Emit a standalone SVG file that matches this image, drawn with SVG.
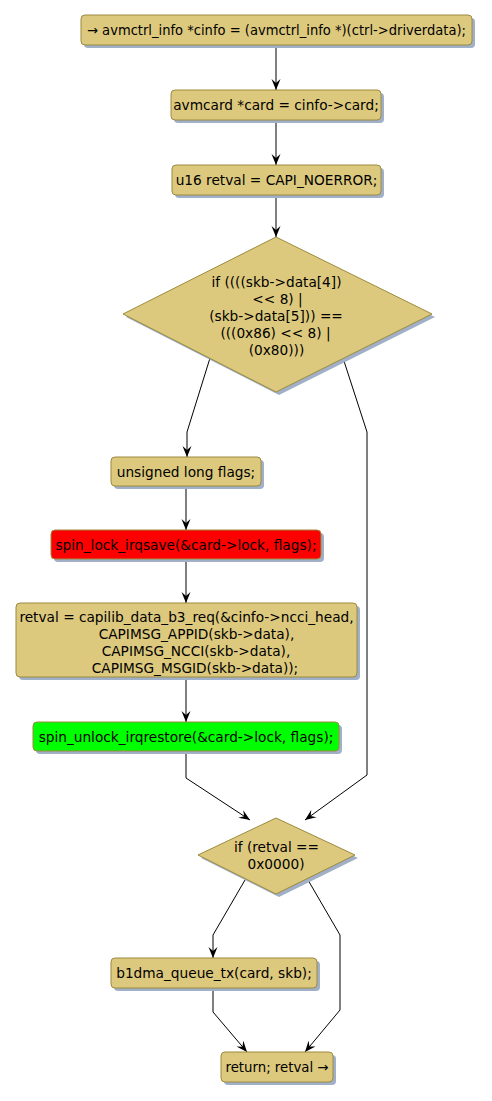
<svg xmlns="http://www.w3.org/2000/svg" width="492" height="1101" viewBox="0 0 492 1101">
<defs>
<style>
.n{fill:#DDC97D;stroke:#9C8A3E;stroke-width:1}
.sh{fill:#9FB0C8}
.t{font-family:"DejaVu Sans",sans-serif;font-size:13.7px;fill:#000;text-anchor:middle}
.e{fill:none;stroke:#000;stroke-width:1}
</style>
<marker id="ah" viewBox="0 0 11 10" refX="11" refY="5" markerWidth="11" markerHeight="10" markerUnits="userSpaceOnUse" orient="auto">
<path d="M0,0.5 L11,5 L0,9.5 L4,5 Z" fill="#000"/>
</marker>
</defs>
<rect width="492" height="1101" fill="#fff"/>
<g id="connectors">
<path class="e" d="M276,45 L276,90" marker-end="url(#ah)"/>
<path class="e" d="M276,120 L276,165" marker-end="url(#ah)"/>
<path class="e" d="M276,195 L276,237" marker-end="url(#ah)"/>
<path class="e" d="M210,358 L187,432 L187,457" marker-end="url(#ah)"/>
<path class="e" d="M343,358 L367,432 L367,775 L305,820" marker-end="url(#ah)"/>
<path class="e" d="M186,486 L186,530" marker-end="url(#ah)"/>
<path class="e" d="M186,559 L186,603" marker-end="url(#ah)"/>
<path class="e" d="M186,677 L186,722" marker-end="url(#ah)"/>
<path class="e" d="M186,751 L186,778 L250,820" marker-end="url(#ah)"/>
<path class="e" d="M245,880 L213,935 L213,958" marker-end="url(#ah)"/>
<path class="e" d="M308,880 L340,935 L340,1010 L305,1052" marker-end="url(#ah)"/>
<path class="e" d="M213,988 L213,1012 L247,1052" marker-end="url(#ah)"/>
</g>
<g id="n1">
<rect class="sh" x="84" y="18" width="391" height="30" rx="4"/>
<rect class="n" x="81" y="15" width="391" height="30" rx="4"/>
<text class="t" x="276.5" y="35" textLength="379" lengthAdjust="spacingAndGlyphs">→ avmctrl_info *cinfo = (avmctrl_info *)(ctrl-&gt;driverdata);</text>
</g>
<g id="n2">
<rect class="sh" x="174" y="93" width="210" height="30" rx="4"/>
<rect class="n" x="171" y="90" width="210" height="30" rx="4"/>
<text class="t" x="276" y="110">avmcard *card = cinfo-&gt;card;</text>
</g>
<g id="n3">
<rect class="sh" x="175" y="168" width="209" height="30" rx="4"/>
<rect class="n" x="172" y="165" width="209" height="30" rx="4"/>
<text class="t" x="276.5" y="185">u16 retval = CAPI_NOERROR;</text>
</g>
<g id="d1">
<polygon class="sh" points="279,240 435,317 279,395 126,317"/>
<polygon class="n" points="276,237 432,314 276,392 123,314"/>
<text class="t" x="276.5" y="287">if ((((skb-&gt;data[4])</text>
<text class="t" x="277.5" y="304">&lt;&lt; 8) |</text>
<text class="t" x="276" y="321">(skb-&gt;data[5])) ==</text>
<text class="t" x="275.5" y="338">(((0x86) &lt;&lt; 8) |</text>
<text class="t" x="276.5" y="355">(0x80)))</text>
</g>
<g id="n4">
<rect class="sh" x="114" y="460" width="150" height="29" rx="4"/>
<rect class="n" x="111" y="457" width="150" height="29" rx="4"/>
<text class="t" x="186" y="476.5">unsigned long flags;</text>
</g>
<g id="n5">
<rect class="sh" x="54" y="533" width="270" height="29" rx="4"/>
<rect x="51" y="530" width="270" height="29" rx="4" fill="#FF0000" stroke="#9C8A3E"/>
<text class="t" x="186" y="549.5">spin_lock_irqsave(&amp;card-&gt;lock, flags);</text>
</g>
<g id="n6">
<rect class="sh" x="19" y="606" width="341" height="74" rx="4"/>
<rect class="n" x="16" y="603" width="341" height="74" rx="4"/>
<text class="t" x="186.5" y="621.5">retval = capilib_data_b3_req(&amp;cinfo-&gt;ncci_head,</text>
<text class="t" x="196.5" y="638.5">CAPIMSG_APPID(skb-&gt;data),</text>
<text class="t" x="196" y="655.5">CAPIMSG_NCCI(skb-&gt;data),</text>
<text class="t" x="195" y="672.5">CAPIMSG_MSGID(skb-&gt;data));</text>
</g>
<g id="n7">
<rect class="sh" x="36" y="725" width="306" height="29" rx="4"/>
<rect x="33" y="722" width="306" height="29" rx="4" fill="#00FF00" stroke="#9C8A3E"/>
<text class="t" x="186" y="741.5">spin_unlock_irqrestore(&amp;card-&gt;lock, flags);</text>
</g>
<g id="d2">
<polygon class="sh" points="279,821 358,858 279,897 201,858"/>
<polygon class="n" points="276,818 355,855 276,894 198,855"/>
<text class="t" x="276.5" y="852">if (retval ==</text>
<text class="t" x="276" y="869">0x0000)</text>
</g>
<g id="n8">
<rect class="sh" x="114" y="961" width="206" height="30" rx="4"/>
<rect class="n" x="111" y="958" width="206" height="30" rx="4"/>
<text class="t" x="214" y="978">b1dma_queue_tx(card, skb);</text>
</g>
<g id="n9">
<rect class="sh" x="224" y="1055" width="112" height="30" rx="4"/>
<rect class="n" x="221" y="1052" width="112" height="30" rx="4"/>
<text class="t" x="277" y="1072" textLength="103" lengthAdjust="spacingAndGlyphs">return; retval →</text>
</g>
</svg>
